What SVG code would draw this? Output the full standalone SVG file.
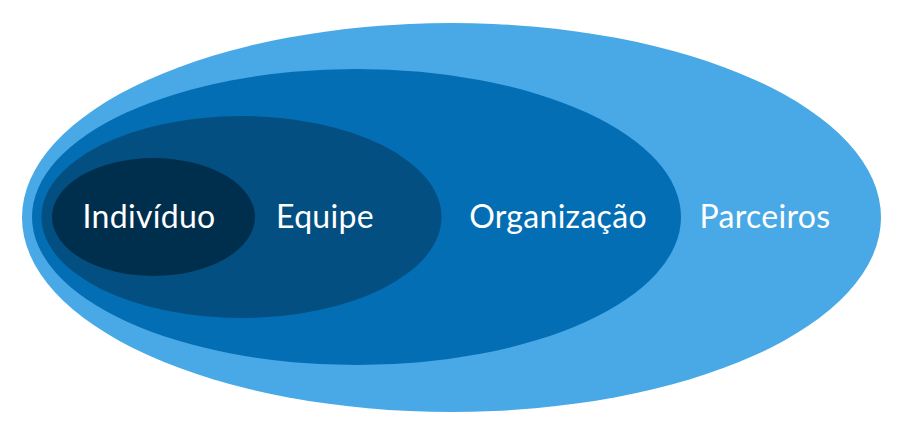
<svg xmlns="http://www.w3.org/2000/svg" width="900" height="440" viewBox="0 0 900 440">
  <style>
    .lbl { font-family: Lato, "Open Sans", "Liberation Sans", sans-serif; font-size: 32px; letter-spacing: 0.3px; fill: #ffffff; text-anchor: middle; }
  </style>
  <rect width="900" height="440" fill="#ffffff"/>
  <!-- nested circles of scope, outermost first -->
  <g id="parceiros">
    <ellipse cx="451.5" cy="217.5" rx="429.5" ry="194.5" fill="#48a9e6"/>
    <text class="lbl" x="765" y="228">Parceiros</text>
  </g>
  <g id="organizacao">
    <ellipse cx="356.5" cy="217" rx="324.5" ry="148" fill="#036eb4"/>
    <text class="lbl" x="558" y="228">Organização</text>
  </g>
  <g id="equipe">
    <ellipse cx="241.5" cy="217" rx="200" ry="101" fill="#034f82"/>
    <text class="lbl" x="325" y="228">Equipe</text>
  </g>
  <g id="individuo">
    <ellipse cx="153.5" cy="217" rx="101.5" ry="59" fill="#002e4d"/>
    <text class="lbl" x="149" y="228">Indivíduo</text>
  </g>
  <g id="connectors"/>
</svg>
